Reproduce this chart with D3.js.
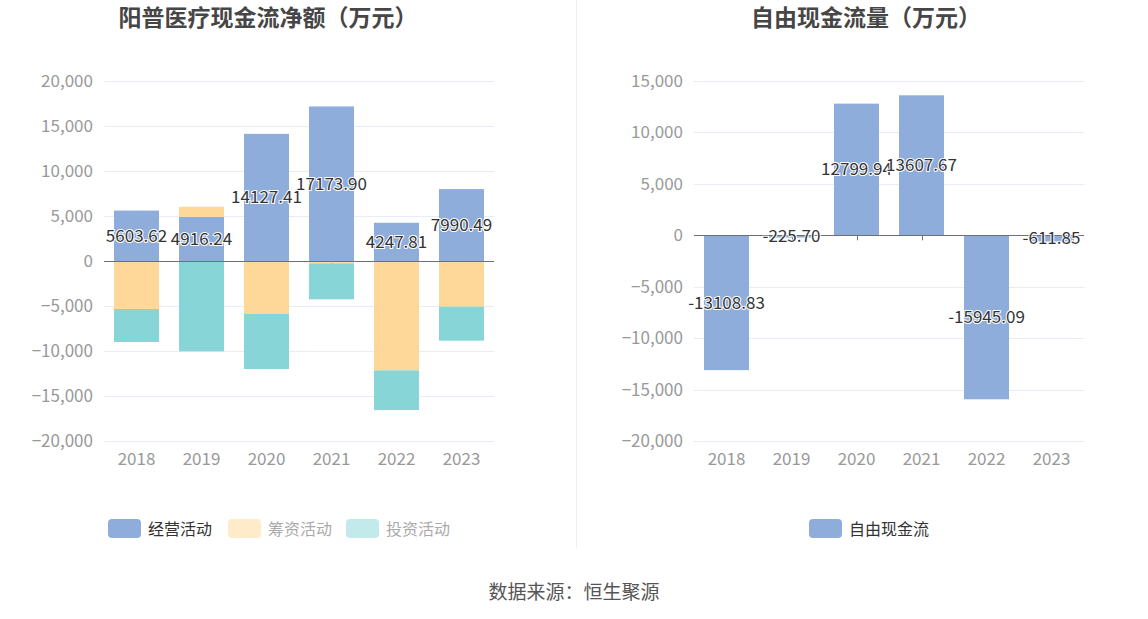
<!DOCTYPE html>
<html>
<head>
<meta charset="utf-8">
<script src="https://cdn.jsdelivr.net/npm/d3@7"></script>
<style>
  body { margin: 0; background: #fff; font-family: "Noto Sans CJK SC", "Noto Sans", sans-serif; }
  svg { display: block; }
</style>
</head>
<body>
<svg id="chart" width="1148" height="619"></svg>
<script>
// data (万元)
const years = ["2018", "2019", "2020", "2021", "2022", "2023"];
const operating = [5603.62, 4916.24, 14127.41, 17173.90, 4247.81, 7990.49];
const financing = [-5330, 1110, -5890, -260, -12150, -5070];
const investing = [-3670, -10040, -6110, -4000, -4410, -3780];
const freeCash = [-13108.83, -225.70, 12799.94, 13607.67, -15945.09, -611.85];
const leftTicks = [20000, 15000, 10000, 5000, 0, -5000, -10000, -15000, -20000];
const rightTicks = [15000, 10000, 5000, 0, -5000, -10000, -15000, -20000];

const colors = { op: "#8eaddb", fin: "#fed899", inv: "#88d5d8" };
const fmt = d3.format(",");
const svg = d3.select("#chart");

// divider between the two panels
svg.append("line")
    .attr("x1", 576.5).attr("x2", 576.5)
    .attr("y1", 0).attr("y2", 548)
    .attr("stroke", "#eeeeee");

// draw axes + grid for one panel, returns scales
function makePanel(x0, x1, ticks, title, titleX) {
    const x = d3.scaleBand().domain(years).range([x0, x1]).paddingInner(0).paddingOuter(0);
    const y = d3.scaleLinear().domain([d3.min(ticks), d3.max(ticks)]).range([441, 81]);
    const g = svg.append("g");

    svg.append("text")
        .attr("x", titleX).attr("y", 26)
        .attr("text-anchor", "middle")
        .style("font-size", "23px")
        .style("font-weight", "bold")
        .attr("fill", "#464646")
        .text(title);

    // grid lines
    g.selectAll("line.grid")
        .data(ticks.filter(t => t !== 0))
        .enter().append("line")
        .attr("x1", x0).attr("x2", x1)
        .attr("y1", d => Math.round(y(d)) + 0.5)
        .attr("y2", d => Math.round(y(d)) + 0.5)
        .attr("stroke", "#e8ecf6");

    // y labels
    g.selectAll("text.ylab")
        .data(ticks)
        .enter().append("text")
        .attr("x", x0 - 11)
        .attr("y", d => y(d))
        .attr("dy", "0.35em")
        .attr("text-anchor", "end")
        .style("font-size", "17px")
        .attr("fill", "#999")
        .text(d => fmt(d));

    // x labels
    g.selectAll("text.xlab")
        .data(years)
        .enter().append("text")
        .attr("x", d => x(d) + x.bandwidth() / 2)
        .attr("y", 465)
        .attr("text-anchor", "middle")
        .style("font-size", "17px")
        .attr("fill", "#999")
        .text(d => d);

    // ticks under the zero line
    g.selectAll("line.tick")
        .data(years)
        .enter().append("line")
        .attr("x1", d => Math.round(x(d) + x.bandwidth() / 2) + 0.5)
        .attr("x2", d => Math.round(x(d) + x.bandwidth() / 2) + 0.5)
        .attr("y1", y(0)).attr("y2", y(0) + 5)
        .attr("stroke", "#6e7079");

    return { x, y };
}

// label with white halo, like the reference
function haloLabel(sel) {
    sel.attr("text-anchor", "middle")
        .attr("dy", "0.35em")
        .style("font-size", "17px")
        .attr("fill", "#333")
        .attr("stroke", "#fff")
        .attr("stroke-width", 2)
        .attr("paint-order", "stroke");
}

// ----- left: stacked cash flow -----
const L = makePanel(104, 494, leftTicks, "阳普医疗现金流净额（万元）", 268);
const barW = 45;
const rows = years.map((yr, i) => ({ year: yr, op: operating[i], fin: financing[i], inv: investing[i] }));
const stacked = d3.stack()
    .keys(["op", "fin", "inv"])
    .offset(d3.stackOffsetDiverging)(rows);

const leftBars = svg.append("g");
stacked.forEach(layer => {
    leftBars.selectAll(null)
        .data(layer)
        .enter().append("rect")
        .attr("x", d => L.x(d.data.year) + (L.x.bandwidth() - barW) / 2)
        .attr("y", d => L.y(d[1]))
        .attr("width", barW)
        .attr("height", d => Math.abs(L.y(d[0]) - L.y(d[1])))
        .attr("fill", colors[layer.key]);
});

svg.append("line")
    .attr("x1", 104).attr("x2", 494)
    .attr("y1", Math.round(L.y(0)) + 0.5).attr("y2", Math.round(L.y(0)) + 0.5)
    .attr("stroke", "#6e7079");

svg.append("g").selectAll("text")
    .data(rows)
    .enter().append("text")
    .attr("x", d => L.x(d.year) + L.x.bandwidth() / 2)
    .attr("y", d => L.y(d.op / 2))
    .text(d => d.op.toFixed(2))
    .call(haloLabel);

// ----- right: free cash flow -----
const R = makePanel(694, 1084, rightTicks, "自由现金流量（万元）", 866);
svg.append("g").selectAll("rect")
    .data(freeCash)
    .enter().append("rect")
    .attr("x", (d, i) => R.x(years[i]) + (R.x.bandwidth() - barW) / 2)
    .attr("y", d => R.y(Math.max(0, d)))
    .attr("width", barW)
    .attr("height", d => Math.abs(R.y(d) - R.y(0)))
    .attr("fill", colors.op);

svg.append("line")
    .attr("x1", 694).attr("x2", 1084)
    .attr("y1", Math.round(R.y(0)) + 0.5).attr("y2", Math.round(R.y(0)) + 0.5)
    .attr("stroke", "#6e7079");

svg.append("g").selectAll("text")
    .data(freeCash)
    .enter().append("text")
    .attr("x", (d, i) => R.x(years[i]) + R.x.bandwidth() / 2)
    .attr("y", d => R.y(d / 2))
    .text(d => d.toFixed(2))
    .call(haloLabel);

// ----- legends -----
const legendItems = [
    { x: 108, label: "经营活动", fill: colors.op, text: "#333" },
    { x: 228, label: "筹资活动", fill: "#ffebca", text: "#aaa" },
    { x: 346, label: "投资活动", fill: "#c2eaeb", text: "#aaa" },
    { x: 809, label: "自由现金流", fill: colors.op, text: "#333" }
];
const lg = svg.append("g").selectAll("g")
    .data(legendItems)
    .enter().append("g")
    .attr("transform", d => `translate(${d.x},519)`);
lg.append("rect")
    .attr("width", 33).attr("height", 19)
    .attr("rx", 4)
    .attr("fill", d => d.fill);
lg.append("text")
    .attr("x", 40).attr("y", 10)
    .attr("dy", "0.35em")
    .style("font-size", "16px")
    .attr("fill", d => d.text)
    .text(d => d.label);

// source
svg.append("text")
    .attr("x", 574).attr("y", 592)
    .attr("dy", "0.35em")
    .attr("text-anchor", "middle")
    .style("font-size", "19px")
    .attr("fill", "#555")
    .text("数据来源：恒生聚源");
</script>
</body>
</html>
